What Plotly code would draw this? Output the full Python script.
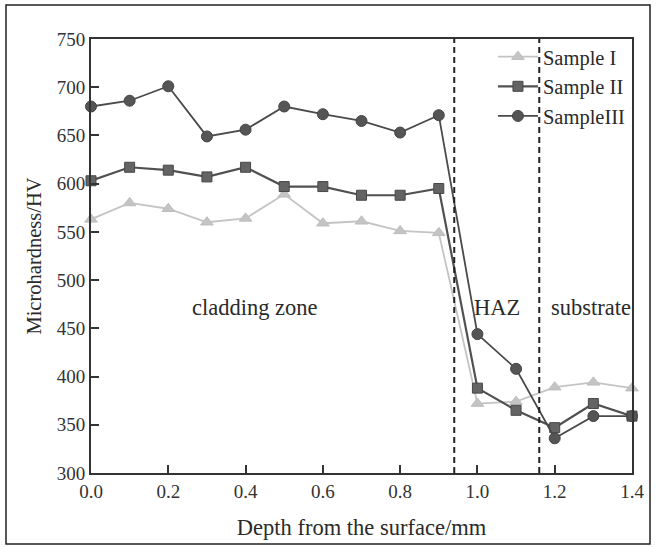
import plotly.graph_objects as go

depth = [0.0, 0.1, 0.2, 0.3, 0.4, 0.5, 0.6, 0.7, 0.8, 0.9, 1.0, 1.1, 1.2, 1.3, 1.4]
sample_1 = [563, 580, 574, 560, 564, 589, 559, 561, 551, 549, 372, 374, 389, 394, 388]
sample_2 = [603, 617, 614, 607, 617, 597, 597, 588, 588, 595, 388, 365, 347, 372, 359]
sample_3 = [680, 686, 701, 649, 656, 680, 672, 665, 653, 671, 444, 408, 336, 359, 359]
series_names = ["Sample I", "Sample II", "SampleIII"]
zone_bounds = [0.94, 1.16]
zone_labels = ["cladding zone", "HAZ", "substrate"]
zone_label_x = [0.425, 1.05, 1.295]
zone_label_y = 472
x_ticks = [0.0, 0.2, 0.4, 0.6, 0.8, 1.0, 1.2, 1.4]
y_ticks = [300, 350, 400, 450, 500, 550, 600, 650, 700, 750]

FONT = "Liberation Serif, Times New Roman, serif"

fig = go.Figure()
styles = [
    dict(color="#c4c4c4", symbol="triangle-up", size=11, lw=1.8, mc="#c4c4c4", ml="#bdbdbd"),
    dict(color="#505050", symbol="square", size=10, lw=2.2, mc="#646464", ml="#474747"),
    dict(color="#4a4a4a", symbol="circle", size=11, lw=1.8, mc="#555555", ml="#444444"),
]
for name, ys, st in zip(series_names, [sample_1, sample_2, sample_3], styles):
    fig.add_trace(go.Scatter(
        x=depth, y=ys, name=name, mode="lines+markers",
        line=dict(color=st["color"], width=st["lw"]),
        marker=dict(symbol=st["symbol"], size=st["size"], color=st["mc"],
                    line=dict(color=st["ml"], width=1)),
        cliponaxis=False,
    ))

for xb in zone_bounds:
    fig.add_shape(type="line", xref="x", yref="paper", x0=xb, x1=xb, y0=0, y1=1,
                  line=dict(color="#222222", width=2, dash="6px,4px"))

for lbl, lx in zip(zone_labels, zone_label_x):
    fig.add_annotation(x=lx, y=zone_label_y, xref="x", yref="y", text=lbl,
                       showarrow=False, font=dict(family=FONT, size=22.5, color="#2a2a2a"))

# outer image border
fig.add_shape(type="rect", xref="paper", yref="paper",
              x0=(6 - 91) / 541, x1=(650 - 91) / 541,
              y0=(473 - 544) / 434, y1=(473 - 5) / 434,
              line=dict(color="#222222", width=1.5))

axis_common = dict(
    showline=True, linecolor="#333333", linewidth=2, mirror=True,
    ticks="inside", ticklen=8, tickwidth=2, tickcolor="#333333",
    showgrid=False, zeroline=False,
    tickfont=dict(family=FONT, size=19, color="#333333"),
)
fig.update_xaxes(range=[0, 1.4], tickvals=x_ticks, ticktext=[f"{v:.1f}" for v in x_ticks],
                 title=dict(text="Depth from the surface/mm", font=dict(family=FONT, size=22.5, color="#2a2a2a"),
                            standoff=18),
                 **axis_common)
fig.update_yaxes(range=[300, 750], tickvals=y_ticks,
                 title=dict(text="Microhardness/HV", font=dict(family=FONT, size=20.5, color="#2a2a2a"),
                            standoff=10),
                 **axis_common)

fig.update_layout(
    width=656, height=547,
    margin=dict(l=91, r=24, t=39, b=74),
    paper_bgcolor="white", plot_bgcolor="white",
    font=dict(family=FONT, color="#2a2a2a"),
    legend=dict(x=0.743, y=1.005, xanchor="left", yanchor="top",
                bgcolor="rgba(0,0,0,0)", font=dict(family=FONT, size=20.5, color="#2a2a2a"),
                tracegroupgap=0, itemwidth=40),
    showlegend=True,
)

fig.write_html("out.html", config={"displayModeBar": False},
               post_script="document.body.style.margin='0';document.body.style.padding='0';")
